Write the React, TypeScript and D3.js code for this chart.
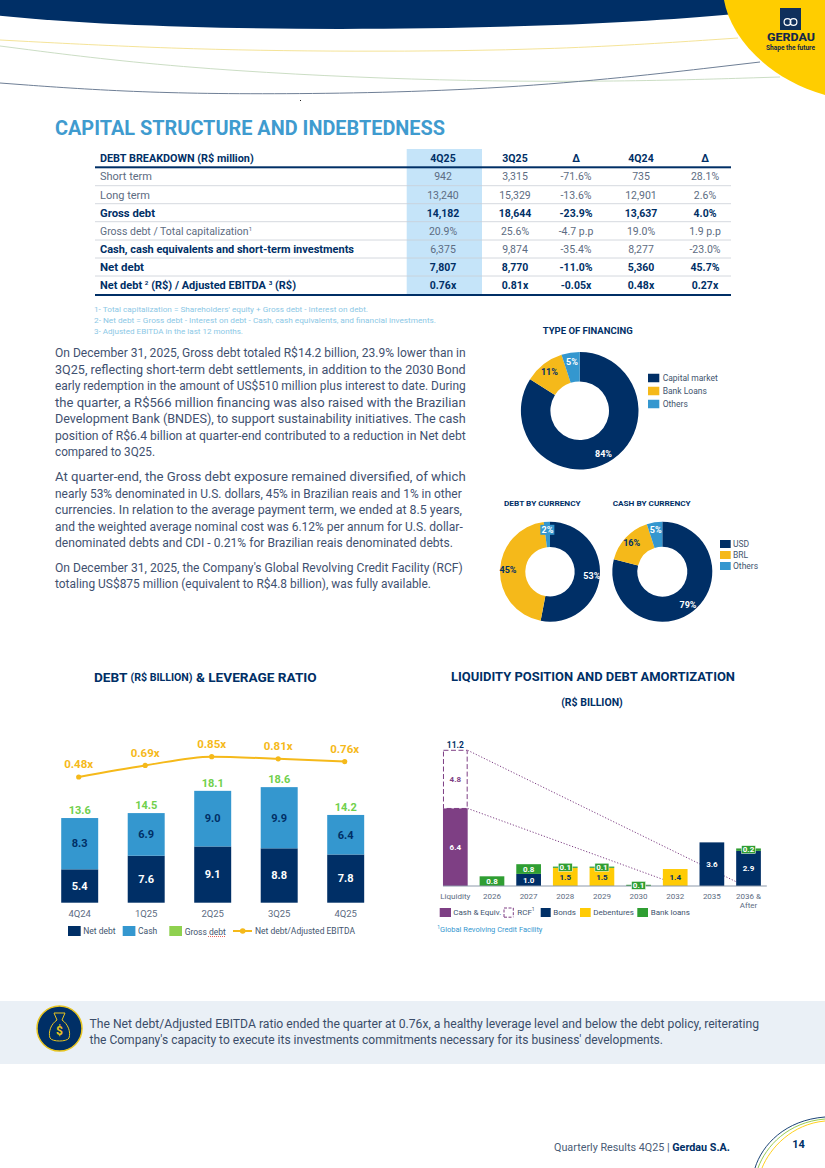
import * as d3 from "d3";

const NAVY = "#002f66";
const BLUE = "#3497cf";
const YELLOW = "#f5b91a";
const GOLD = "#ffcb05";
const GREEN = "#2f9e32";
const PURPLE = "#7e3f84";
const TEXT = "#42546e";
const FONT = "Roboto, sans-serif";

// table
const tableHeader = ["4Q25", "3Q25", "Δ", "4Q24", "Δ"];
const tableLabels = [
  "Short term",
  "Long term",
  "Gross debt",
  "Gross debt / Total capitalization",
  "Cash, cash equivalents and short-term investments",
  "Net debt",
  "Net debt (R$) / Adjusted EBITDA (R$)",
];
const tableLabelEnds = [152, 150, 155, 252, 354, 144, 296];
const tableRows = [
  ["942", "3,315", "-71.6%", "735", "28.1%"],
  ["13,240", "15,329", "-13.6%", "12,901", "2.6%"],
  ["14,182", "18,644", "-23.9%", "13,637", "4.0%"],
  ["20.9%", "25.6%", "-4.7 p.p", "19.0%", "1.9 p.p"],
  ["6,375", "9,874", "-35.4%", "8,277", "-23.0%"],
  ["7,807", "8,770", "-11.0%", "5,360", "45.7%"],
  ["0.76x", "0.81x", "-0.05x", "0.48x", "0.27x"],
];
const boldRows = [2, 4, 5, 6];
const rowY = [176, 195, 213, 231, 249, 267, 285];
const rowRules = [185.7, 203.7, 221.7, 240, 258, 276];
const colX = [443, 515, 576, 641, 705];

const footnotes = [
  ["1- Total capitalization = Shareholders' equity + Gross debt - Interest on debt.", 368],
  ["2- Net debt = Gross debt - Interest on debt - Cash, cash equivalents, and financial investments.", 436],
  ["3- Adjusted EBITDA in the last 12 months.", 243],
] as [string, number][];

// body text: line, y, right end
const bodyLines = [
  ["On December 31, 2025, Gross debt totaled R$14.2 billion, 23.9% lower than in", 352.7, 465.7],
  ["3Q25, reflecting short-term debt settlements, in addition to the 2030 Bond", 369.7, 465.7],
  ["early redemption in the amount of US$510 million plus interest to date. During", 386, 465.7],
  ["the quarter, a R$566 million financing was also raised with the Brazilian", 402.7, 465.7],
  ["Development Bank (BNDES), to support sustainability initiatives. The cash", 419, 465.7],
  ["position of R$6.4 billion at quarter-end contributed to a reduction in Net debt", 436, 465.7],
  ["compared to 3Q25.", 452, 155],
  ["At quarter-end, the Gross debt exposure remained diversified, of which", 477, 465.7],
  ["nearly 53% denominated in U.S. dollars, 45% in Brazilian reais and 1% in other", 493.7, 461.7],
  ["currencies. In relation to the average payment term, we ended at 8.5 years,", 510, 462],
  ["and the weighted average nominal cost was 6.12% per annum for U.S. dollar-", 526.7, 462.7],
  ["denominated debts and CDI - 0.21% for Brazilian reais denominated debts.", 542.7, 453],
  ["On December 31, 2025, the Company's Global Revolving Credit Facility (RCF)", 567.7, 462.7],
  ["totaling US$875 million (equivalent to R$4.8 billion), was fully available.", 584, 431],
] as [string, number, number][];

// donuts
const financingValues = [84, 11, 5];
const debtCurrencyValues = [53, 45, 2];
const cashCurrencyValues = [79, 16, 5];
const financingLegend = ["Capital market", "Bank Loans", "Others"];
const currencyLegend = ["USD", "BRL", "Others"];
const donutColors = [NAVY, YELLOW, BLUE];

// debt & leverage
const quarters = ["4Q24", "1Q25", "2Q25", "3Q25", "4Q25"];
const netDebt = [5.4, 7.6, 9.1, 8.8, 7.8];
const cash = [8.3, 6.9, 9.0, 9.9, 6.4];
const grossDebt = [13.6, 14.5, 18.1, 18.6, 14.2];
const leverage = [0.48, 0.69, 0.85, 0.81, 0.76];

// liquidity & amortization
const amortYears = ["Liquidity", "2026", "2027", "2028", "2029", "2030", "2032", "2035", "2036 &"];
const cashEquiv = [6.4, 0, 0, 0, 0, 0, 0, 0, 0];
const rcf = [4.8, 0, 0, 0, 0, 0, 0, 0, 0];
const bonds = [0, 0, 1.0, 0, 0, 0, 0, 3.6, 2.9];
const debentures = [0, 0, 0, 1.5, 1.5, 0, 1.4, 0, 0];
const bankLoans = [0, 0.8, 0.8, 0.1, 0.1, 0.1, 0, 0, 0.2];
const liquidityTotal = 11.2;

function Fit({ x, y, end, size, color = TEXT, weight = 400, children }: any) {
  return (
    <text
      x={x}
      y={y + size * 0.08}
      fontSize={size}
      fill={color}
      fontWeight={weight}
      dominantBaseline="middle"
      textLength={end - x}
      lengthAdjust="spacingAndGlyphs"
    >
      {children}
    </text>
  );
}

function Mid({ x, y, size, color = TEXT, weight = 400, children }: any) {
  return (
    <text x={x} y={y + size * 0.08} fontSize={size} fill={color} fontWeight={weight} textAnchor="middle" dominantBaseline="middle">
      {children}
    </text>
  );
}

function Donut({ cx, cy, r, inner, values, boxed }: any) {
  const pie = d3.pie<number>().sort(null)(values);
  const arc = d3.arc<d3.PieArcDatum<number>>().innerRadius(inner).outerRadius(r);
  const labelArc = d3.arc<d3.PieArcDatum<number>>().innerRadius(r * 0.84).outerRadius(r * 0.84);
  return (
    <g transform={`translate(${cx},${cy})`}>
      {pie.map((p, i) => (
        <path key={i} d={arc(p)!} fill={donutColors[i]} />
      ))}
      {pie.map((p, i) => {
        const [lx, ly] = labelArc.centroid(p);
        return (
          <g key={i}>
            {boxed === i && <rect x={lx - 7} y={ly - 5} width={14} height={10} fill={BLUE} />}
            <Mid x={lx} y={ly} size={9} weight={700} color={i === 1 ? NAVY : "#fff"}>
              {p.data}%
            </Mid>
          </g>
        );
      })}
    </g>
  );
}

function Legend({ x, labelX, ys, labels, w, h }: any) {
  return (
    <g>
      {labels.map((l: string, i: number) => (
        <g key={l}>
          <rect x={x} y={ys[i] - h / 2} width={w} height={h} fill={donutColors[i]} />
          <text x={labelX} y={ys[i] + 0.6} fontSize={8.5} fill={TEXT} dominantBaseline="middle">
            {l}
          </text>
        </g>
      ))}
    </g>
  );
}

function LeverageChart() {
  const x = d3.scaleBand().domain(quarters).range([46.45, 378.95]).paddingInner(0.444).paddingOuter(0.222);
  const y = d3.scaleLinear().domain([0, 20]).range([902.7, 779.1]);
  const yLev = d3.scaleLinear().domain([0, 1]).range([803.4, 748.4]);
  const bw = x.bandwidth();
  const cx = (q: string) => x(q)! + bw / 2;
  const line = d3
    .line<number>()
    .x((_, i) => cx(quarters[i]) - 1)
    .y((d) => yLev(d))
    .curve(d3.curveMonotoneX);
  return (
    <g>
      {quarters.map((q, i) => {
        const top = netDebt[i] + cash[i];
        return (
          <g key={q}>
            <rect x={x(q)} y={y(netDebt[i])} width={bw} height={y(0) - y(netDebt[i])} fill={NAVY} />
            <rect x={x(q)} y={y(top)} width={bw} height={y(netDebt[i]) - y(top)} fill={BLUE} />
            <Mid x={cx(q)} y={(y(0) + y(netDebt[i])) / 2} size={11} weight={700} color="#fff">
              {netDebt[i].toFixed(1)}
            </Mid>
            <Mid x={cx(q)} y={(y(netDebt[i]) + y(top)) / 2} size={11} weight={700} color={NAVY}>
              {cash[i].toFixed(1)}
            </Mid>
            <Mid x={cx(q)} y={y(top) - 8} size={11} weight={700} color="#70d04c">
              {grossDebt[i].toFixed(1)}
            </Mid>
            <Mid x={cx(q)} y={913.3} size={9.5} color="#5d6c82">
              {q}
            </Mid>
          </g>
        );
      })}
      <path d={line(leverage)!} fill="none" stroke={YELLOW} strokeWidth={2} />
      {leverage.map((d, i) => (
        <g key={i}>
          <circle cx={cx(quarters[i]) - 1} cy={yLev(d)} r={2.6} fill={YELLOW} />
          <Mid x={cx(quarters[i]) - 1} y={yLev(d) - 12.5} size={11.5} weight={700} color={YELLOW}>
            {d.toFixed(2)}x
          </Mid>
        </g>
      ))}
      {/* legend */}
      <rect x={68} y={926} width={12.7} height={10} fill={NAVY} />
      <text x={83.3} y={931.6} fontSize={8.5} fill={TEXT} dominantBaseline="middle">Net debt</text>
      <rect x={122.7} y={926} width={12.7} height={10} fill={BLUE} />
      <text x={138} y={931.6} fontSize={8.5} fill={TEXT} dominantBaseline="middle">Cash</text>
      <rect x={169.3} y={926} width={12.7} height={10} fill="#8fd14f" />
      <text x={184.7} y={932.4} fontSize={8.5} fill={TEXT} dominantBaseline="middle">Gross debt</text>
      <line x1={208} x2={225} y1={936.5} y2={936.5} stroke="#e03c31" strokeWidth={0.8} strokeDasharray="1 1" />
      <line x1={233} x2={252} y1={931} y2={931} stroke={YELLOW} strokeWidth={2} />
      <circle cx={242.7} cy={931} r={2.8} fill={YELLOW} />
      <Fit x={255} y={931} end={355} size={8.5}>Net debt/Adjusted EBITDA</Fit>
    </g>
  );
}

function AmortChart() {
  const x = d3.scaleBand().domain(amortYears).range([437, 766.85]).paddingInner(0.326).paddingOuter(0.163);
  const y = d3.scaleLinear().domain([0, 12]).range([886, 740.6]);
  const bw = x.bandwidth();
  const keys = ["cashEquiv", "rcf", "bonds", "debentures", "bankLoans"];
  const table = amortYears.map((_, i) => ({
    cashEquiv: cashEquiv[i],
    rcf: rcf[i],
    bonds: bonds[i],
    debentures: debentures[i],
    bankLoans: bankLoans[i],
  }));
  const series = d3.stack<any>().keys(keys)(table);
  const fills: Record<string, string> = {
    cashEquiv: PURPLE,
    rcf: "none",
    bonds: NAVY,
    debentures: GOLD,
    bankLoans: GREEN,
  };
  const liqRight = x("Liquidity")! + bw;
  return (
    <g>
      {/* dotted guides run behind the bars */}
      <line x1={liqRight} y1={y(liquidityTotal)} x2={x("2036 &")!} y2={y(0.35)} stroke={PURPLE} strokeWidth={1} strokeDasharray="1.2 1.8" />
      <line x1={liqRight} y1={y(cashEquiv[0])} x2={x("2032")!} y2={y(0.55)} stroke={PURPLE} strokeWidth={1} strokeDasharray="1.2 1.8" />
      {series.map((s) =>
        s.map((d, i) => {
          const v = d[1] - d[0];
          if (!v) return null;
          const yr = amortYears[i];
          if (s.key === "rcf") {
            return (
              <rect key={yr} x={x(yr)! + 0.5} y={y(d[1])} width={bw - 1} height={y(d[0]) - y(d[1])} fill="none" stroke={PURPLE} strokeWidth={1} strokeDasharray="5 2.5" />
            );
          }
          return <rect key={yr} x={x(yr)} y={y(d[1])} width={bw} height={y(d[0]) - y(d[1])} fill={fills[s.key]} />;
        })
      )}
      <line x1={443} x2={766.8} y1={y(0)} y2={y(0)} stroke="#8c99aa" strokeWidth={1} />
      {series.map((s) =>
        s.map((d, i) => {
          const v = d[1] - d[0];
          if (!v) return null;
          const yr = amortYears[i];
          const cx = x(yr)! + bw / 2;
          const cy = (y(d[0]) + y(d[1])) / 2;
          const small = s.key === "bankLoans" && v < 0.5;
          const color = s.key === "debentures" ? NAVY : s.key === "rcf" ? PURPLE : "#fff";
          return (
            <g key={yr}>
              {small && <rect x={cx - 7} y={cy - 4} width={14} height={8} fill={GREEN} stroke="#fff" strokeWidth={0.5} />}
              <Mid x={cx} y={cy} size={8} weight={700} color={color}>
                {v.toFixed(1)}
              </Mid>
            </g>
          );
        })
      )}
      <Mid x={x("Liquidity")! + bw / 2} y={745} size={8.5} weight={700} color={NAVY}>
        {liquidityTotal.toFixed(1)}
      </Mid>
      {amortYears.map((yr) => (
        <Mid key={yr} x={x(yr)! + bw / 2} y={896.7} size={8} color="#5d6c82">
          {yr}
        </Mid>
      ))}
      <Mid x={x("2036 &")! + bw / 2} y={905} size={8} color="#5d6c82">After</Mid>
      {/* legend */}
      <rect x={439.7} y={908} width={11.3} height={9} fill={PURPLE} />
      <text x={453.3} y={913} fontSize={8} fill={TEXT} dominantBaseline="middle">Cash &amp; Equiv.</text>
      <path d="M504,917V908H513.3V917" fill="none" stroke={PURPLE} strokeWidth={1} strokeDasharray="3 1.5" />
      <path d="M504,917.2H513.3" stroke={PURPLE} strokeWidth={1} strokeDasharray="3 1.5" />
      <text x={517.3} y={913} fontSize={8} fill={TEXT} dominantBaseline="middle">
        RCF<tspan fontSize={5} dy={-3}>1</tspan>
      </text>
      <rect x={540.7} y={908} width={10} height={9} fill={NAVY} />
      <text x={553.3} y={913} fontSize={8} fill={TEXT} dominantBaseline="middle">Bonds</text>
      <rect x={580} y={908} width={10.7} height={9} fill={GOLD} />
      <text x={593.3} y={913} fontSize={8} fill={TEXT} dominantBaseline="middle">Debentures</text>
      <rect x={637.3} y={908} width={10.7} height={9} fill={GREEN} />
      <text x={650.7} y={913} fontSize={8} fill={TEXT} dominantBaseline="middle">Bank loans</text>
      <text x={437.3} y={930.3} fontSize={7.5} fill={BLUE} dominantBaseline="middle">
        <tspan fontSize={5} dy={-2}>1</tspan>
        <tspan dy={2}>Global Revolving Credit Facility</tspan>
      </text>
    </g>
  );
}

function PageArt() {
  const curve = d3.line().curve(d3.curveBasis);
  return (
    <g>
      <path d="M0,0H735V14C560,31 200,36 0,15.7Z" fill={NAVY} />
      <path d={curve([[0, 40], [170, 49], [350, 52], [560, 50], [738, 38]])!} fill="none" stroke="#f3e08c" strokeWidth={0.9} />
      <path d={curve([[0, 46], [170, 68], [420, 81], [620, 82], [780, 77]])!} fill="none" stroke="#c5d9bd" strokeWidth={0.9} />
      <path d={curve([[0, 83], [120, 92], [270, 95], [520, 90], [760, 62]])!} fill="none" stroke="#6f7f96" strokeWidth={1} />
      <path d="M724,0C730,35 765,78 825,95V0Z" fill="#ffcd00" />
      <rect x={780} y={8} width={21} height={22} fill="#10305c" />
      <circle cx={787.5} cy={22} r={3.4} fill="none" stroke="#fff" strokeWidth={1.2} />
      <circle cx={793.5} cy={22} r={3.4} fill="none" stroke="#fff" strokeWidth={1.2} />
      <Fit x={767} y={37} end={815} size={11} weight={800} color="#14284a">GERDAU</Fit>
      <Fit x={766} y={48} end={815} size={6.5} weight={700} color="#14284a">Shape the future</Fit>
      <rect x={300} y={100} width={1} height={1} fill="#222" />

      {/* callout band */}
      <rect x={0} y={1001} width={825} height={63} fill="#eaf0f6" />
      <circle cx={59.5} cy={1028.5} r={22.5} fill={NAVY} stroke="#e8c520" strokeWidth={1.5} />
      <path d="M54,1013H65L62,1020C68,1024 71,1032 69,1038C67,1042 52,1042 50,1038C48,1032 51,1024 57,1020Z" fill="none" stroke="#e8c520" strokeWidth={1} />
      <Mid x={59.5} y={1031} size={12} weight={700} color="#e8c520">$</Mid>
      <Fit x={89.5} y={1024} end={759} size={12} color="#3a4d69">
        The Net debt/Adjusted EBITDA ratio ended the quarter at 0.76x, a healthy leverage level and below the debt policy, reiterating
      </Fit>
      <Fit x={89.5} y={1040} end={663} size={12} color="#3a4d69">
        the Company's capacity to execute its investments commitments necessary for its business' developments.
      </Fit>

      {/* footer */}
      <Fit x={554} y={1147} end={730} size={10.5} color="#4a5c76">
        Quarterly Results 4Q25 | <tspan fontWeight={700} fill={NAVY}>Gerdau S.A.</tspan>
      </Fit>
      <Mid x={798.5} y={1144} size={11} weight={700} color={NAVY}>14</Mid>
      <path d="M755,1168C762,1145 785,1120 825,1117" fill="none" stroke={NAVY} strokeWidth={0.9} />
      <path d="M758,1168C766,1146 788,1122 825,1119" fill="none" stroke="#8cc63f" strokeWidth={0.9} />
      <path d="M762,1168C770,1148 792,1124 825,1121" fill="none" stroke={GOLD} strokeWidth={0.9} />
    </g>
  );
}

function DebtTable() {
  return (
    <g>
      <rect x={406.7} y={149} width={75.3} height={146} fill="#c5e4f9" />
      <Fit x={100} y={158} end={253.7} size={10.5} weight={700} color={NAVY}>DEBT BREAKDOWN (R$ million)</Fit>
      {tableHeader.map((h, i) => (
        <Mid key={i} x={colX[i]} y={158} size={10.5} weight={700} color={NAVY}>{h}</Mid>
      ))}
      <rect x={95} y={166.3} width={636} height={2} fill={NAVY} />
      {rowRules.map((r) => (
        <line key={r} x1={95} x2={731} y1={r} y2={r} stroke="#c9ced6" strokeWidth={0.8} />
      ))}
      <rect x={95} y={294} width={636} height={2} fill={NAVY} />
      {tableLabels.map((l, r) => {
        const bold = boldRows.includes(r);
        const color = bold ? NAVY : "#5d6c82";
        return (
          <g key={l}>
            <Fit x={100} y={rowY[r]} end={tableLabelEnds[r]} size={10.5} weight={bold ? 700 : 400} color={color}>
              {r === 6 ? (
                <>Net debt <tspan fontSize={6} dy={-3}>2</tspan><tspan dy={3}> (R$) / Adjusted EBITDA </tspan><tspan fontSize={6} dy={-3}>3</tspan><tspan dy={3}> (R$)</tspan></>
              ) : r === 3 ? (
                <>{l}<tspan fontSize={6} dy={-3}>1</tspan></>
              ) : (
                l
              )}
            </Fit>
            {tableRows[r].map((v, c) => (
              <Mid key={c} x={colX[c]} y={rowY[r]} size={10.5} weight={bold && r !== 4 ? 700 : 400} color={bold && r !== 4 ? NAVY : "#5d6c82"}>
                {v}
              </Mid>
            ))}
          </g>
        );
      })}
      {footnotes.map(([t, end], i) => (
        <Fit key={i} x={94} y={309 + i * 11} end={end} size={7.5} color="#8cc8e6">{t}</Fit>
      ))}
    </g>
  );
}

export default function App() {
  return (
    <svg
      width={825}
      height={1168}
      viewBox="0 0 825 1168"
      fontFamily={FONT}
      style={{ position: "absolute", left: 0, top: 0, display: "block", background: "#fff" }}
    >
      <PageArt />
      <Fit x={55} y={128} end={445} size={20.5} weight={700} color="#3f9bcf">CAPITAL STRUCTURE AND INDEBTEDNESS</Fit>
      <DebtTable />

      {bodyLines.map(([t, y, end]) => (
        <Fit key={y} x={55} y={y} end={end} size={12} color="#3f5170">{t}</Fit>
      ))}

      <Fit x={542.7} y={330.7} end={632.7} size={8.5} weight={700} color={NAVY}>TYPE OF FINANCING</Fit>
      <Donut cx={579.7} cy={410.7} r={58.8} inner={29.3} values={financingValues} />
      <Legend x={648} labelX={662.7} ys={[378, 391, 404]} labels={financingLegend} w={11.3} h={8.5} />

      <Fit x={504} y={503} end={580.7} size={8} weight={700} color={NAVY}>DEBT BY CURRENCY</Fit>
      <Fit x={612.7} y={503} end={690.7} size={8} weight={700} color={NAVY}>CASH BY CURRENCY</Fit>
      <Donut cx={550} cy={571.7} r={50} inner={24.7} values={debtCurrencyValues} boxed={2} />
      <Donut cx={662.3} cy={571.7} r={50} inner={25} values={cashCurrencyValues} />
      <Legend x={720} labelX={733} ys={[544, 555, 566]} labels={currencyLegend} w={10.7} h={8} />

      <Fit x={94} y={677} end={316.7} size={13.5} weight={700} color={NAVY}>
        DEBT <tspan fontSize={10.5}>(R$ BILLION)</tspan> &amp; LEVERAGE RATIO
      </Fit>
      <LeverageChart />

      <Fit x={451} y={677} end={735} size={13} weight={700} color={NAVY}>LIQUIDITY POSITION AND DEBT AMORTIZATION</Fit>
      <Mid x={592} y={702} size={10.5} weight={700} color={NAVY}>(R$ BILLION)</Mid>
      <AmortChart />
    </svg>
  );
}
